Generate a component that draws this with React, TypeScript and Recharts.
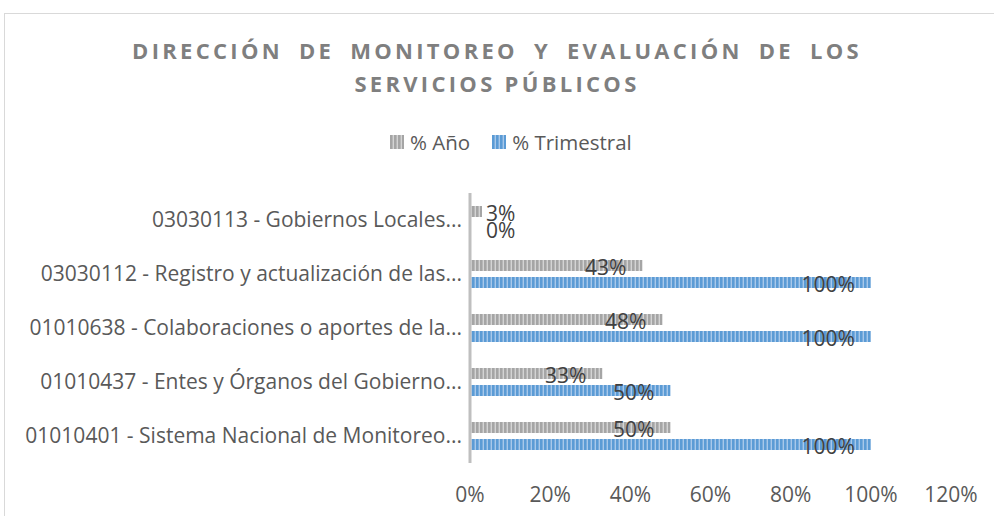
import React from 'react';
import { Bar, BarChart, LabelList, Legend, XAxis, YAxis } from 'recharts';

const categories = [
  '03030113 - Gobiernos Locales...',
  '03030112 - Registro y actualización de las...',
  '01010638 - Colaboraciones o aportes de la...',
  '01010437 - Entes y Órganos del Gobierno...',
  '01010401 - Sistema Nacional de Monitoreo...',
];
const anio = [0.03, 0.43, 0.48, 0.33, 0.5];
const trimestral = [0, 1, 1, 0.5, 1];
const xTicks = [0, 0.2, 0.4, 0.6, 0.8, 1, 1.2];

const data = categories.map((name, i) => ({ name, anio: anio[i], trimestral: trimestral[i] }));

const FONT = '"Open Sans", sans-serif';
const pct = (v: number) => `${Math.round(v * 100)}%`;

const series = [
  { key: 'anio', name: '% Año', dark: '#a5a5a5', light: '#d4d4d4' },
  { key: 'trimestral', name: '% Trimestral', dark: '#5b9bd5', light: '#a8c8ea' },
];

function Stripes({ id, dark, light }: { id: string; dark: string; light: string }) {
  return (
    <pattern id={id} width={4} height={4} patternUnits="userSpaceOnUse">
      <rect width={4} height={4} fill={dark} />
      <rect x={2.6} width={1.4} height={4} fill={light} />
    </pattern>
  );
}

// Excel-like "inside end" labels; tiny values get pushed right of the axis
const BarLabel = (props: any) => {
  const { x, y, width, height, value } = props;
  const small = value < 0.1;
  return (
    <text
      x={small ? x + 16 : x + width - 16}
      y={y + height / 2 + 1}
      textAnchor={small ? 'start' : 'end'}
      dominantBaseline="central"
      fontFamily={FONT}
      fontSize={21}
      fill="#404040"
    >
      {pct(value)}
    </text>
  );
};

const LegendBox = () => (
  <div style={{ display: 'flex', alignItems: 'center', paddingLeft: 390, fontFamily: FONT, fontSize: 20.5, color: '#595959' }}>
    {series.map((s, i) => (
      <div key={s.key} style={{ display: 'flex', alignItems: 'center', marginRight: i === 0 ? 22 : 0 }}>
        <svg width={14} height={14} style={{ marginRight: 6 }}>
          <defs>
            <Stripes id={`lg-${s.key}`} dark={s.dark} light={s.light} />
          </defs>
          <rect width={14} height={14} fill={`url(#lg-${s.key})`} />
        </svg>
        <span style={{ lineHeight: '28px' }}>{s.name}</span>
      </div>
    ))}
  </div>
);

export default function App() {
  const titleStyle: React.CSSProperties = {
    position: 'absolute',
    left: 0,
    width: 994,
    textAlign: 'center',
    fontFamily: FONT,
    fontWeight: 700,
    fontSize: 22,
    lineHeight: '22px',
    letterSpacing: 3.3,
    color: '#7f7f7f',
  };
  return (
    <div style={{ position: 'absolute', left: 0, top: 0, width: 994, height: 516, overflow: 'hidden', background: '#fff' }}>
      <div style={{ position: 'absolute', left: 4, top: 13, width: 1000, height: 600, border: '1px solid #d9d9d9' }} />
      <div style={{ ...titleStyle, top: 39, wordSpacing: 7 }}>DIRECCIÓN DE MONITOREO Y EVALUACIÓN DE LOS</div>
      <div style={{ ...titleStyle, top: 72 }}>SERVICIOS PÚBLICOS</div>
      <BarChart
        width={994}
        height={516}
        data={data}
        layout="vertical"
        margin={{ top: 193, right: 43, bottom: 0, left: 0 }}
        barSize={11}
        barGap={6}
        style={{ position: 'absolute', left: 0, top: 0 }}
      >
        <defs>
          {series.map((s) => (
            <Stripes key={s.key} id={`st-${s.key}`} dark={s.dark} light={s.light} />
          ))}
        </defs>
        <XAxis
          type="number"
          domain={[0, 1.2]}
          ticks={xTicks}
          tickFormatter={pct}
          axisLine={false}
          tickLine={false}
          tickMargin={18}
          height={53}
          tick={{ fill: '#595959', fontSize: 21, fontFamily: FONT }}
        />
        <YAxis
          type="category"
          dataKey="name"
          width={470}
          interval={0}
          tickLine={false}
          axisLine={{ stroke: '#bfbfbf', strokeWidth: 3 }}
          tick={{ fill: '#595959', fontSize: 21, fontFamily: FONT }}
        />
        <Legend
          layout="horizontal"
          verticalAlign="middle"
          align="center"
          content={LegendBox}
          wrapperStyle={{ top: 128, left: 0, width: 994 }}
        />
        {series.map((s) => (
          <Bar
            key={s.key}
            dataKey={s.key}
            name={s.name}
            fill={`url(#st-${s.key})`}
            minPointSize={1}
            isAnimationActive={false}
          >
            <LabelList dataKey={s.key} content={BarLabel} />
          </Bar>
        ))}
      </BarChart>
    </div>
  );
}
